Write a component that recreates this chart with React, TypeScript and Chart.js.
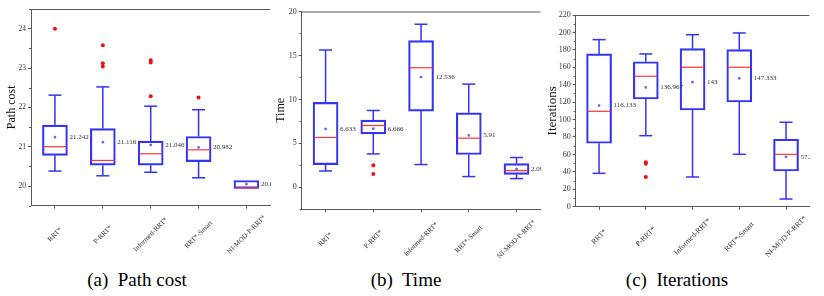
import React, { useEffect, useRef } from "react";
import { Chart, registerables } from "chart.js";

Chart.register(...registerables);

// ---------------- data ----------------
const categories = ["RRT*", "P-RRT*", "Informed-RRT*", "RRT*-Smart", "NI-MOD-P-RRT*"];

// (a) Path cost
const costQ1 = [20.78, 20.53, 20.53, 20.62, 19.94];
const costQ3 = [21.55, 21.46, 21.14, 21.26, 20.14];
const costMedian = [21.0, 20.65, 20.82, 20.92, 19.95];
const costLow = [20.38, 20.26, 20.35, 20.21, 19.94];
const costHigh = [22.31, 22.52, 22.03, 21.94, 20.14];
const costMean = [21.242, 21.116, 21.046, 20.982, 20.05];
const costOutliers = [[24.0], [23.58, 23.12, 23.04], [23.2, 23.14, 22.28], [22.25], []];
const costTicks = [20, 21, 22, 23, 24];

// (b) Time
const timeQ1 = [2.59, 6.08, 8.67, 3.73, 1.48];
const timeQ3 = [9.66, 7.64, 16.68, 8.47, 2.7];
const timeMedian = [5.67, 7.03, 13.6, 5.59, 1.9];
const timeLow = [1.86, 3.8, 2.59, 1.22, 0.99];
const timeHigh = [15.62, 8.74, 18.55, 11.74, 3.39];
const timeMean = [6.633, 6.666, 12.536, 5.91, 2.09];
const timeOutliers = [[], [2.51, 1.52], [], [], []];
const timeTicks = [0, 5, 10, 15, 20];

// (c) Iterations
const iterQ1 = [72.8, 123.6, 111, 120.2, 41];
const iterQ3 = [175.3, 166.4, 181.4, 180.2, 77.4];
const iterMedian = [109.5, 149.7, 160, 160, 60.1];
const iterLow = [38.3, 81.5, 34.1, 60.1, 8.8];
const iterHigh = [191.7, 175.3, 197.4, 199.4, 96.9];
const iterMean = [116.133, 136.967, 143, 147.333, 57.2];
const iterOutliers = [[], [51, 49.4, 34.1], [], [], []];
const iterTicks = [0, 20, 40, 60, 80, 100, 120, 140, 160, 180, 200, 220];

// ---------------- styles ----------------
const FONT = '"Liberation Serif", "Times New Roman", serif';
const BLUE = "#3434f4";
const RED = "#ff3434";
const AXIS = "#5a5a5a";
const TEXT = "#333333";
const BOX_W = 25;
const CAP_W = 13;

type Spec = {
  q1: number[]; q3: number[]; median: number[]; low: number[]; high: number[];
  mean: number[]; outliers: number[][]; ticks: number[];
  min: number; max: number; title: string; titleSize: number; titlePad: number;
  tickSize: number; labelSize: number;
  left: number; width: number; height: number; padTop: number; padRight: number;
  yAxisWidth: number; xAxisHeight: number; labelDy: number;
};

const fmt = (v: number) => String(Number(v.toFixed(3)));

function makePlugin(spec: Spec) {
  return {
    id: "boxExtras",
    afterDatasetsDraw(chart: any) {
      const ctx = chart.ctx;
      const x = chart.scales.x;
      const y = chart.scales.y;
      const ca = chart.chartArea;
      const line = (x1: number, y1: number, x2: number, y2: number) => {
        ctx.beginPath();
        ctx.moveTo(x1, y1);
        ctx.lineTo(x2, y2);
        ctx.stroke();
      };
      ctx.save();
      // top border
      ctx.strokeStyle = AXIS;
      ctx.lineWidth = 1;
      line(ca.left, ca.top + 0.5, ca.right, ca.top + 0.5);
      // minor y ticks
      const t = spec.ticks;
      const step = t[1] - t[0];
      const minors: number[] = [];
      for (let v = t[0] - step / 2; v <= spec.max; v += step) if (v >= spec.min) minors.push(v);
      minors.forEach((v) => {
        const py = Math.round(y.getPixelForValue(v)) + 0.5;
        line(ca.left - 2, py, ca.left, py);
      });
      spec.q1.forEach((_, i) => {
        const cx = x.getPixelForValue(i);
        const yq1 = y.getPixelForValue(spec.q1[i]);
        const yq3 = y.getPixelForValue(spec.q3[i]);
        const yLo = y.getPixelForValue(spec.low[i]);
        const yHi = y.getPixelForValue(spec.high[i]);
        ctx.strokeStyle = BLUE;
        ctx.lineWidth = 1.5;
        if (yHi < yq3 - 0.5) {
          line(cx, yq3, cx, yHi);
          line(cx - CAP_W / 2, yHi, cx + CAP_W / 2, yHi);
        }
        if (yLo > yq1 + 0.5) {
          line(cx, yq1, cx, yLo);
          line(cx - CAP_W / 2, yLo, cx + CAP_W / 2, yLo);
        }
        ctx.strokeStyle = RED;
        ctx.lineWidth = 1.2;
        const ym = y.getPixelForValue(spec.median[i]);
        line(cx - BOX_W / 2 + 1, ym, cx + BOX_W / 2 - 1, ym);
      });
      // mean value labels, clipped at the right edge of the plot
      ctx.save();
      ctx.beginPath();
      ctx.rect(0, 0, ca.right + 1, chart.height);
      ctx.clip();
      ctx.fillStyle = TEXT;
      ctx.font = `7px ${FONT}`;
      ctx.textAlign = "left";
      ctx.textBaseline = "middle";
      spec.mean.forEach((m, i) => {
        const cx = x.getPixelForValue(i);
        ctx.fillText(fmt(m), cx + BOX_W / 2 + 2, y.getPixelForValue(m));
      });
      ctx.restore();
      // rotated category labels
      ctx.fillStyle = TEXT;
      ctx.font = `${spec.labelSize}px ${FONT}`;
      categories.forEach((c, i) => {
        const cx = x.getPixelForValue(i);
        ctx.save();
        ctx.translate(cx, ca.bottom + spec.labelDy);
        ctx.rotate(-Math.PI / 4);
        ctx.textAlign = "center";
        ctx.textBaseline = "middle";
        ctx.fillText(c, 0, 0);
        ctx.restore();
      });
      ctx.restore();
    },
  };
}

function BoxPanel({ spec }: { spec: Spec }) {
  const ref = useRef<HTMLCanvasElement>(null);
  useEffect(() => {
    const outlierPts: { x: string; y: number }[] = [];
    spec.outliers.forEach((arr, i) => arr.forEach((v) => outlierPts.push({ x: categories[i], y: v })));
    const chart = new Chart(ref.current as HTMLCanvasElement, {
      type: "bar",
      data: {
        labels: categories,
        datasets: [
          {
            type: "bar",
            data: spec.q1.map((v, i) => [v, spec.q3[i]]) as any,
            backgroundColor: "rgba(255,255,255,0)",
            borderColor: BLUE,
            borderWidth: 1.5,
            borderSkipped: false,
            barThickness: BOX_W,
            order: 3,
          } as any,
          {
            type: "line",
            data: spec.mean as any,
            showLine: false,
            pointStyle: "rect",
            pointRadius: 1.2,
            pointBackgroundColor: "#9090ff",
            pointBorderColor: BLUE,
            pointBorderWidth: 0.6,
            order: 2,
          } as any,
          {
            type: "line",
            data: outlierPts as any,
            showLine: false,
            pointRadius: 2,
            pointBackgroundColor: "#ee1111",
            pointBorderWidth: 0,
            order: 1,
          } as any,
        ],
      },
      options: {
        animation: false,
        responsive: false,
        maintainAspectRatio: false,
        layout: { padding: { left: 0, top: spec.padTop, right: spec.padRight, bottom: 0 } },
        plugins: { legend: { display: false }, tooltip: { enabled: false } },
        scales: {
          x: {
            type: "category",
            offset: true,
            grid: { display: true, drawOnChartArea: false, offset: false, tickLength: 3, color: AXIS },
            border: { display: true, color: AXIS, width: 1 },
            ticks: { display: false },
            afterFit: (s: any) => {
              s.height = spec.xAxisHeight;
            },
          },
          y: {
            type: "linear",
            min: spec.min,
            max: spec.max,
            grid: { display: true, drawOnChartArea: false, tickLength: 3, color: AXIS },
            border: { display: true, color: AXIS, width: 1 },
            ticks: { font: { family: FONT, size: spec.tickSize }, color: TEXT, padding: 2 },
            afterBuildTicks: (s: any) => {
              s.ticks = spec.ticks.map((v) => ({ value: v }));
            },
            title: {
              display: true,
              text: spec.title,
              color: "#111",
              font: { family: FONT, size: spec.titleSize },
              padding: { top: spec.titlePad, bottom: 0 },
            },
            afterFit: (s: any) => {
              s.width = spec.yAxisWidth;
            },
          },
        } as any,
      },
      plugins: [makePlugin(spec)],
    });
    return () => chart.destroy();
  }, [spec]);
  return (
    <canvas
      ref={ref}
      width={spec.width}
      height={spec.height}
      style={{ position: "absolute", left: spec.left, top: 0, width: spec.width, height: spec.height }}
    />
  );
}

const specA: Spec = {
  q1: costQ1, q3: costQ3, median: costMedian, low: costLow, high: costHigh, mean: costMean,
  outliers: costOutliers, ticks: costTicks, min: 19.5, max: 24.5,
  title: "Path cost", titleSize: 12, titlePad: 4.5, tickSize: 7.5, labelSize: 7,
  left: 0, width: 275, height: 262, padTop: 9, padRight: 1, yAxisWidth: 31, xAxisHeight: 56.3, labelDy: 29,
};
const specB: Spec = {
  q1: timeQ1, q3: timeQ3, median: timeMedian, low: timeLow, high: timeHigh, mean: timeMean,
  outliers: timeOutliers, ticks: timeTicks, min: -2.5, max: 20,
  title: "Time", titleSize: 12, titlePad: 3.5, tickSize: 8, labelSize: 7,
  left: 270, width: 275, height: 262, padTop: 11.5, padRight: 1, yAxisWidth: 31.7, xAxisHeight: 52.7, labelDy: 30,
};
const specC: Spec = {
  q1: iterQ1, q3: iterQ3, median: iterMedian, low: iterLow, high: iterHigh, mean: iterMean,
  outliers: iterOutliers, ticks: iterTicks, min: 0, max: 220,
  title: "Iterations", titleSize: 13, titlePad: 5, tickSize: 8, labelSize: 7.5,
  left: 540, width: 274, height: 262, padTop: 15, padRight: 1, yAxisWidth: 35.7, xAxisHeight: 55.3, labelDy: 30,
};

const captions = [
  { text: "(a)  Path cost", cx: 137 },
  { text: "(b)  Time", cx: 406 },
  { text: "(c)  Iterations", cx: 677 },
];

export default function App() {
  return (
    <div style={{ position: "fixed", left: 0, top: 0, width: 824, height: 296, background: "#fff", overflow: "hidden" }}>
      <BoxPanel spec={specA} />
      <BoxPanel spec={specB} />
      <BoxPanel spec={specC} />
      {captions.map((c) => (
        <div
          key={c.text}
          style={{
            position: "absolute",
            left: c.cx - 100,
            width: 200,
            top: 270,
            textAlign: "center",
            fontFamily: FONT,
            fontSize: 19,
            lineHeight: "19px",
            whiteSpace: "pre",
            color: "#000",
          }}
        >
          {c.text}
        </div>
      ))}
    </div>
  );
}
